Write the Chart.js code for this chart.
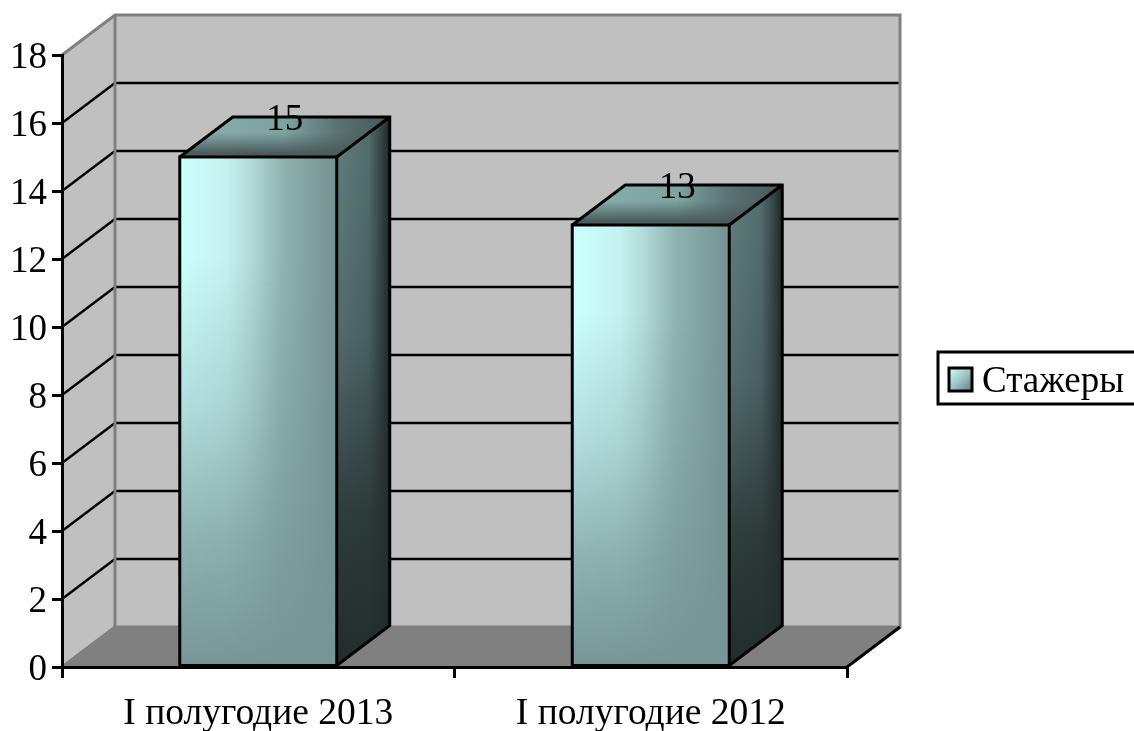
<!DOCTYPE html>
<html><head><meta charset="utf-8">
<style>html,body{margin:0;padding:0;background:#fff}canvas{display:block}</style>
<script src="https://cdn.jsdelivr.net/npm/chart.js@4/dist/chart.umd.min.js"></script>
</head><body><canvas id="c" width="1134" height="731"></canvas>
<script>
const categories = ["I полугодие 2013", "I полугодие 2012"];
const seriesName = "Стажеры";
const stazhery = [15, 13];
const yMax = 18;
const yStep = 2;

const DX = 53, DY = -40, FONT = "'Liberation Serif','Times New Roman',serif", FS = 37;

function poly(ctx, pts){ctx.beginPath();pts.forEach((p,i)=>i?ctx.lineTo(p[0],p[1]):ctx.moveTo(p[0],p[1]));ctx.closePath();}
function line(ctx,x1,y1,x2,y2,color,w){ctx.strokeStyle=color;ctx.lineWidth=w;ctx.beginPath();ctx.moveTo(x1,y1);ctx.lineTo(x2,y2);ctx.stroke();}
function hGrad(ctx,x0,x1,stops){const g=ctx.createLinearGradient(x0,0,x1,0);stops.forEach(s=>g.addColorStop(s[0],s[1]));return g;}
function vGrad(ctx,y0,y1,stops){const g=ctx.createLinearGradient(0,y0,0,y1);stops.forEach(s=>g.addColorStop(s[0],s[1]));return g;}

const walls = {
  id:'walls',
  beforeDraw(chart){
    const {ctx,chartArea:a,scales:{y}}=chart;
    const l=a.left,r=a.right,t=a.top,b=a.bottom;
    ctx.save();
    ctx.lineJoin='miter';
    ctx.fillStyle='#c0c0c0';
    ctx.fillRect(l+DX,t+DY,r-l,b-t);
    poly(ctx,[[l,t],[l+DX,t+DY],[l+DX,b+DY],[l,b]]);ctx.fill();
    ctx.fillStyle='#808080';
    poly(ctx,[[l,b],[l+DX,b+DY],[r+DX,b+DY],[r,b]]);ctx.fill();
    for(let v=yStep;v<yMax;v+=yStep){
      const p=y.getPixelForValue(v);
      line(ctx,l+DX,p+DY,r+DX,p+DY,'#000',2.5);
      line(ctx,l,p,l+DX,p+DY,'#000',2.5);
    }
    ctx.strokeStyle='#808080';ctx.lineWidth=3;
    ctx.beginPath();ctx.moveTo(l,t);ctx.lineTo(l+DX,t+DY);ctx.lineTo(r+DX,t+DY);ctx.lineTo(r+DX,b+DY);ctx.lineTo(l+DX,b+DY);ctx.lineTo(l,b);ctx.stroke();
    line(ctx,l+DX,t+DY,l+DX,b+DY,'#808080',3);
    line(ctx,r,b,r+DX,b+DY,'#000',3);
    ctx.restore();
  }
};

const bars3d = {
  id:'bars3d',
  afterDatasetsDraw(chart){
    const {ctx}=chart;
    const meta=chart.getDatasetMeta(0);
    meta.data.forEach((el,i)=>{
      const L=el.x-el.width/2,R=el.x+el.width/2,T=el.y,B=el.base;
      ctx.save();
      ctx.lineJoin='miter';
      const off=document.createElement('canvas');off.width=Math.ceil(R-L);off.height=Math.ceil(B-T);
      const o=off.getContext('2d');
      o.fillStyle=hGrad(o,0,off.width,[[0,'#ccffff'],[.3,'#c4f2f0'],[.45,'#b2dcda'],[.65,'#90b4b2'],[1,'#739190']]);
      o.fillRect(0,0,off.width,off.height);
      o.globalCompositeOperation='destination-in';
      o.fillStyle=vGrad(o,0,off.height,[[0,'rgba(0,0,0,1)'],[.2,'rgba(0,0,0,1)'],[.5,'rgba(0,0,0,.67)'],[.75,'rgba(0,0,0,.28)'],[1,'rgba(0,0,0,0)']]);
      o.fillRect(0,0,off.width,off.height);
      ctx.drawImage(off,L,T);
      const side=[[R,T],[R+DX,T+DY],[R+DX,B+DY],[R,B]];
      poly(ctx,side);ctx.save();ctx.clip();
      ctx.fillStyle=hGrad(ctx,R,R+DX,[[0,'#607b7b'],[.6,'#526b6b'],[.8,'#3a4b4b'],[1,'#1f2828']]);
      ctx.fillRect(R,T+DY,DX,B-T-DY);
      ctx.fillStyle=vGrad(ctx,T,B,[[0,'rgba(36,46,46,0)'],[.35,'rgba(36,46,46,.2)'],[.7,'rgba(36,46,46,.8)'],[1,'rgba(34,44,44,1)']]);
      ctx.fillRect(R,T+DY,DX,B-T-DY);
      ctx.restore();
      const top=[[L,T],[L+DX,T+DY],[R+DX,T+DY],[R,T]];
      poly(ctx,top);ctx.save();ctx.clip();
      ctx.fillStyle=hGrad(ctx,L,R+DX,[[0,'#8bb0ae'],[.5,'#7da3a1'],[.75,'#5a7272'],[1,'#455858']]);
      ctx.fillRect(L,T+DY,R-L+DX,-DY);
      ctx.fillStyle=vGrad(ctx,T+DY,T,[[.4,'rgba(74,92,92,0)'],[.9,'rgba(74,92,92,1)']]);
      ctx.fillRect(L,T+DY,R-L+DX,-DY);
      ctx.restore();
      ctx.strokeStyle='#000';ctx.lineWidth=3;
      ctx.strokeRect(L,T,R-L,B-T);
      ctx.beginPath();ctx.moveTo(L,T);ctx.lineTo(L+DX,T+DY);ctx.lineTo(R+DX,T+DY);ctx.lineTo(R+DX,B+DY);ctx.lineTo(R,B);ctx.moveTo(R,T);ctx.lineTo(R+DX,T+DY);ctx.stroke();
      ctx.fillStyle='#000';ctx.font=FS+'px '+FONT;ctx.textAlign='center';ctx.textBaseline='middle';
      ctx.fillText(String(stazhery[i]),el.x+DX/2,T+DY+3);
      ctx.restore();
    });
  },
  afterDraw(chart){
    const {ctx}=chart;
    ctx.save();
    ctx.strokeStyle='#000';ctx.lineWidth=3;
    ctx.strokeRect(938,352,200,52);
    const g=ctx.createLinearGradient(949,368,972,391);
    g.addColorStop(0,'#ccffff');g.addColorStop(.5,'#9fc6c4');g.addColorStop(1,'#5f7c7c');
    ctx.fillStyle=g;ctx.fillRect(949,368,23,23);
    ctx.strokeRect(949,368,23,23);
    ctx.fillStyle='#000';ctx.font=FS+'px '+FONT;ctx.textAlign='left';ctx.textBaseline='alphabetic';
    ctx.fillText(seriesName,982,392);
    ctx.restore();
  }
};

new Chart(document.getElementById('c'),{
  type:'bar',
  data:{labels:categories,datasets:[{label:seriesName,data:stazhery,backgroundColor:'#779796',borderWidth:0,categoryPercentage:.4,barPercentage:1}]},
  plugins:[walls,bars3d],
  options:{
    responsive:false,animation:false,
    layout:{padding:{top:55,right:287,left:0,bottom:0}},
    plugins:{legend:{display:false},tooltip:{enabled:false},title:{display:false}},
    scales:{
      x:{
        afterFit(s){s.height=64;},
        grid:{offset:true,drawOnChartArea:false,drawTicks:true,tickLength:11,color:'#000',lineWidth:3},
        border:{color:'#000',width:3},
        ticks:{color:'#000',font:{family:FONT,size:37.5},padding:14,maxRotation:0}
      },
      y:{
        min:0,max:yMax,
        afterFit(s){s.width=62;},
        grid:{drawOnChartArea:false,drawTicks:true,tickLength:10,color:'#000',lineWidth:3},
        border:{color:'#000',width:3},
        ticks:{stepSize:yStep,color:'#000',font:{family:FONT,size:FS},padding:5,labelOffset:3}
      }
    }
  }
});
</script></body></html>
